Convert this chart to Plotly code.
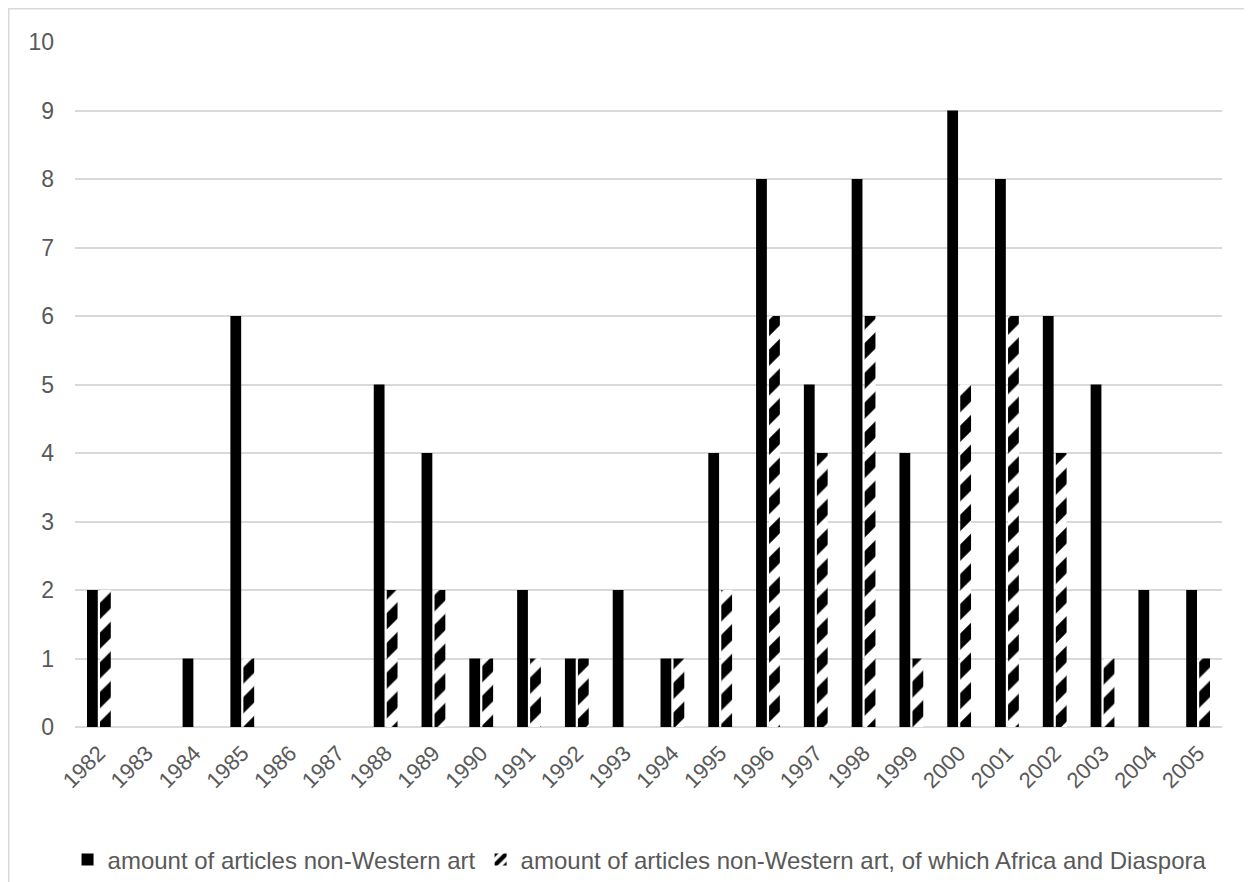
import plotly.graph_objects as go

years = [str(y) for y in range(1982, 2006)]
non_western = [2, 0, 1, 6, 0, 0, 5, 4, 1, 2, 1, 2, 1, 4, 8, 5, 8, 4, 9, 8, 6, 5, 2, 2]
africa_diaspora = [2, 0, 0, 1, 0, 0, 2, 2, 1, 1, 1, 0, 1, 2, 6, 4, 6, 1, 5, 6, 4, 1, 0, 1]
y_ticks = list(range(0, 11))

W, H = 1244, 874
ml, mr, mt, mb = 67, 30, 34, 155
pw, ph = W - ml - mr, H - mt - mb

fig = go.Figure()
fig.add_trace(go.Bar(
    x=years, y=non_western,
    name="amount of articles non-Western art",
    marker=dict(color="black", line=dict(width=0)),
))
fig.add_trace(go.Bar(
    x=years, y=africa_diaspora,
    name="amount of articles non-Western art, of which Africa and Diaspora",
    marker=dict(color="white", line=dict(width=0), opacity=1,
                pattern=dict(shape="/", fgcolor="#000000", bgcolor="#ffffff",
                             fgopacity=1, fillmode="replace",
                             size=21, solidity=0.55)),
))

font_color = "#595959"
fig.update_layout(
    width=W, height=H,
    margin=dict(l=ml, r=mr, t=mt, b=mb, autoexpand=False),
    paper_bgcolor="white", plot_bgcolor="white",
    barmode="group", bargap=0.456, bargroupgap=0.17,
    font=dict(family="Liberation Sans, Arial", size=22, color=font_color),
    showlegend=True,
    legend=dict(orientation="h", x=-0.0065, xanchor="left", y=-0.194, yanchor="middle",
                font=dict(size=24, color=font_color), itemwidth=30,
                traceorder="normal"),
    xaxis=dict(tickangle=-45, showgrid=False, showline=False, ticks="", automargin=False,
               ticklabelstandoff=8, tickfont=dict(size=22, color=font_color)),
    yaxis=dict(range=[0, 10], tickvals=y_ticks, showgrid=True, gridcolor="#d9d9d9",
               gridwidth=1.5, zeroline=True, zerolinecolor="#d9d9d9", zerolinewidth=1.5,
               showline=False, ticks="", ticklabelstandoff=20, automargin=False,
               tickfont=dict(size=23, color=font_color)),
    shapes=[dict(type="rect", xref="paper", yref="paper",
                 x0=(0.75 - ml) / pw, x1=1 + (mr + 20) / pw,
                 y0=-(mb + 20) / ph, y1=1 + (mt - 0.75) / ph,
                 line=dict(color="#d9d9d9", width=1.5), fillcolor="rgba(0,0,0,0)",
                 layer="below")],
)

fig.write_html("out.html")
